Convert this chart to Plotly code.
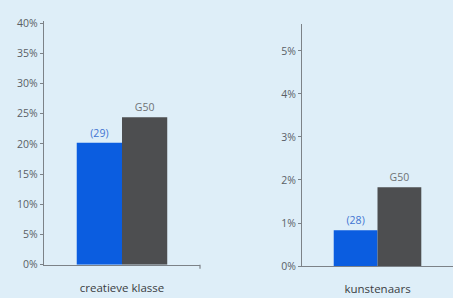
import plotly.graph_objects as go

categories = ["creatieve klasse", "kunstenaars"]
region_values = [20.2, 0.83]
g50_values = [24.4, 1.83]
region_labels = ["(29)", "(28)"]
g50_label = "G50"

BG = "#deeef8"
BLUE = "#0b5de0"
GRAY = "#4d4e50"
AXIS = "#7c8288"
FONT = "Open Sans"

fig = go.Figure()
axes = [("x", "y"), ("x2", "y2")]
for i, (xa, ya) in enumerate(axes):
    fig.add_trace(go.Bar(
        x=[categories[i]], y=[region_values[i]], xaxis=xa, yaxis=ya,
        marker=dict(color=BLUE, line=dict(width=0)),
        text=[region_labels[i]], textposition="outside", cliponaxis=False,
        textfont=dict(color="#3f74d2", size=10.5, family=FONT),
        showlegend=False))
    fig.add_trace(go.Bar(
        x=[categories[i]], y=[g50_values[i]], xaxis=xa, yaxis=ya,
        marker=dict(color=GRAY, line=dict(width=0)),
        text=[g50_label], textposition="outside", cliponaxis=False,
        textfont=dict(color="#6e7275", size=10.5, family=FONT),
        showlegend=False))

common_x = dict(showline=True, linecolor=AXIS, linewidth=1.2, ticks="outside",
                ticklen=12, tickcolor="rgba(0,0,0,0)", showgrid=False, zeroline=False,
                tickfont=dict(size=11.5, color="#3a3d42", family=FONT), fixedrange=True)
common_y = dict(showline=True, linecolor=AXIS, linewidth=1.2, ticks="outside",
                ticklen=3, tickcolor=AXIS, showgrid=False, zeroline=False,
                ticksuffix="%", tickfont=dict(size=10.5, color="#5a5f66", family=FONT),
                fixedrange=True)

fig.update_layout(
    width=453, height=298,
    margin=dict(l=0, r=0, t=0, b=0),
    paper_bgcolor=BG, plot_bgcolor=BG,
    barmode="group", bargap=0.42, bargroupgap=0,
    font=dict(family=FONT),
    xaxis=dict(domain=[0.0971, 0.4415], anchor="y", **common_x),
    yaxis=dict(domain=[0.0916, 0.943], anchor="x", range=[0, 40.3], dtick=5, **common_y),
    xaxis2=dict(domain=[0.6667, 1.0], anchor="y2", **common_x),
    yaxis2=dict(domain=[0.0872, 0.9329], anchor="x2", range=[0, 5.62], dtick=1, **common_y),
    shapes=[dict(type="line", xref="x domain", yref="paper", x0=1, x1=1,
                 y0=0.0916, y1=0.0916 - 4/298, line=dict(color=AXIS, width=1.2))],
)

fig.write_html("out.html", config={"displayModeBar": False},
               post_script="document.body.style.margin='0';document.body.style.overflow='hidden';document.body.style.background='%s';" % BG)
